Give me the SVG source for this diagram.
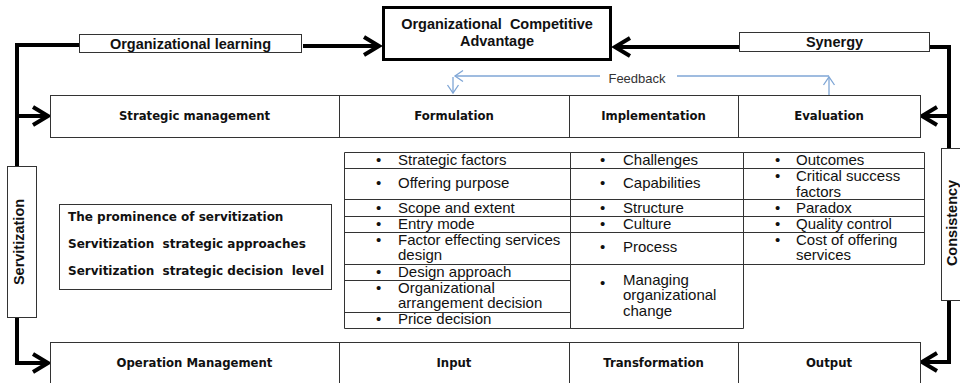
<svg xmlns="http://www.w3.org/2000/svg" width="960" height="383" viewBox="0 0 960 383">
<style>
.bg{fill:#fff}
.box{fill:#fff;stroke:#333;stroke-width:1}
.grid{stroke:#333;stroke-width:1;fill:none}
.conn{fill:none;stroke:#000;stroke-width:4}
.fb{fill:none;stroke:#7fa6d6;stroke-width:1.3}
.lbl{font-family:"Liberation Sans",Arial,sans-serif;font-weight:bold;font-size:14.5px;fill:#111;text-anchor:middle}
.hdr{font-family:"DejaVu Sans",Verdana,sans-serif;font-weight:bold;font-size:11.7px;fill:#111;text-anchor:middle}
.hdr2{font-family:"DejaVu Sans",Verdana,sans-serif;font-weight:bold;font-size:11.7px;fill:#111;text-anchor:middle}
.lb{font-family:"DejaVu Sans",Verdana,sans-serif;font-weight:bold;font-size:12px;fill:#111}
.it{font-family:"Liberation Sans",Arial,sans-serif;font-size:15px;fill:#111}
.fbt{font-family:"Liberation Sans",Arial,sans-serif;font-size:13px;fill:#333;text-anchor:middle}
</style>
<defs>
<marker id="chev" markerUnits="userSpaceOnUse" markerWidth="24" markerHeight="26" viewBox="0 0 24 26" refX="19" refY="13" orient="auto">
<path d="M4,4 L19,13 L4,22" fill="none" stroke="#000" stroke-width="4"/>
</marker>
<marker id="fchev" markerUnits="userSpaceOnUse" markerWidth="12" markerHeight="14" viewBox="0 0 12 14" refX="10" refY="7" orient="auto">
<path d="M2,1.5 L10,7 L2,12.5" fill="none" stroke="#7fa6d6" stroke-width="1.3"/>
</marker>
</defs>
<rect class="bg" x="0" y="0" width="960" height="383"/>

<g id="connectors">
<path class="conn" d="M79,45 H17 V166"/>
<path class="conn" d="M17,116 H48" marker-end="url(#chev)"/>
<path class="conn" d="M17,318 V363 H48" marker-end="url(#chev)"/>
<path class="conn" d="M303,46 H379" marker-end="url(#chev)"/>
<path class="conn" d="M739,47 H615" marker-end="url(#chev)"/>
<path class="conn" d="M930,47 H949 V148"/>
<path class="conn" d="M949,116 H922" marker-end="url(#chev)"/>
<path class="conn" d="M949,301 V362 H922" marker-end="url(#chev)"/>
<path class="fb" d="M829,95 V77" marker-end="url(#fchev)"/>
<path class="fb" d="M829,76 H677"/>
<path class="fb" d="M600,76 H455" marker-end="url(#fchev)"/>
<path class="fb" d="M453,77 V93" marker-end="url(#fchev)"/>
<text class="fbt" x="637" y="83">Feedback</text>
</g>

<g id="node-advantage">
<rect x="383.5" y="7.5" width="227" height="52" fill="#fff" stroke="#000" stroke-width="3"/>
<text class="lbl" x="497" y="29" font-size="15" xml:space="preserve">Organizational  Competitive</text>
<text class="lbl" x="497" y="46" font-size="15">Advantage</text>
</g>

<g id="node-learning">
<rect class="box" x="79.5" y="34.5" width="222" height="18"/>
<text class="lbl" x="190.5" y="49">Organizational learning</text>
</g>

<g id="node-synergy">
<rect class="box" x="739.5" y="32.5" width="190" height="19"/>
<text class="lbl" x="834.5" y="47">Synergy</text>
</g>

<g id="node-servitization">
<rect class="box" x="7.5" y="166.5" width="29" height="151"/>
<text class="lbl" font-size="15" transform="translate(24,242) rotate(-90)" x="0" y="0">Servitization</text>
</g>

<g id="node-consistency">
<rect class="box" x="941.5" y="148.5" width="25" height="152"/>
<text class="lbl" font-size="15" transform="translate(957,223) rotate(-90)" x="0" y="0">Consistency</text>
</g>

<g id="node-strategic">
<rect class="box" x="50.5" y="95.5" width="870" height="42"/>
<path class="grid" d="M339.5,95.5 V137.5 M569.5,95.5 V137.5 M738.5,95.5 V137.5"/>
<text class="hdr" x="194.5" y="120">Strategic management</text>
<text class="hdr" x="454" y="120">Formulation</text>
<text class="hdr" x="653.5" y="120">Implementation</text>
<text class="hdr" x="829" y="120">Evaluation</text>
</g>

<g id="node-operation">
<rect class="box" x="50.5" y="342.5" width="870" height="50"/>
<path class="grid" d="M339.5,342.5 V383 M569.5,342.5 V383 M738.5,342.5 V383"/>
<text class="hdr2" x="194.5" y="367">Operation Management</text>
<text class="hdr2" x="454" y="367">Input</text>
<text class="hdr2" x="653.5" y="367">Transformation</text>
<text class="hdr2" x="829" y="367">Output</text>
</g>

<g id="node-servitization-topics">
<rect class="box" x="59.5" y="204.5" width="272" height="85"/>
<text class="lb" x="68" y="221">The prominence of servitization</text>
<text class="lb" x="68" y="248" xml:space="preserve">Servitization  strategic approaches</text>
<text class="lb" x="68" y="275" xml:space="preserve">Servitization  strategic decision  level</text>
</g>

<g id="node-formulation-items">
<path class="grid" d="M344.5,152.5 H570.5 V328.5 H344.5 Z M344.5,168.5 H570.5 M344.5,199.5 H570.5 M344.5,216.5 H570.5 M344.5,232.5 H570.5 M344.5,264.5 H570.5 M344.5,280.5 H570.5 M344.5,312.5 H570.5"/>
<text class="it" x="376" y="165">•</text><text class="it" x="398" y="165">Strategic factors</text>
<text class="it" x="376" y="188">•</text><text class="it" x="398" y="188">Offering purpose</text>
<text class="it" x="376" y="213">•</text><text class="it" x="398" y="213">Scope and extent</text>
<text class="it" x="376" y="229">•</text><text class="it" x="398" y="229">Entry mode</text>
<text class="it" x="376" y="245">•</text><text class="it" x="398" y="245">Factor effecting services</text>
<text class="it" x="398" y="260">design</text>
<text class="it" x="376" y="277">•</text><text class="it" x="398" y="277">Design approach</text>
<text class="it" x="376" y="293">•</text><text class="it" x="398" y="293">Organizational</text>
<text class="it" x="398" y="308">arrangement decision</text>
<text class="it" x="376" y="324">•</text><text class="it" x="398" y="324">Price decision</text>
</g>

<g id="node-implementation-items">
<path class="grid" d="M570.5,152.5 H743.5 V328.5 H570.5 Z M570.5,168.5 H743.5 M570.5,199.5 H743.5 M570.5,216.5 H743.5 M570.5,232.5 H743.5 M570.5,264.5 H743.5"/>
<text class="it" x="600" y="165">•</text><text class="it" x="623" y="165">Challenges</text>
<text class="it" x="600" y="188">•</text><text class="it" x="623" y="188">Capabilities</text>
<text class="it" x="600" y="213">•</text><text class="it" x="623" y="213">Structure</text>
<text class="it" x="600" y="229">•</text><text class="it" x="623" y="229">Culture</text>
<text class="it" x="600" y="252">•</text><text class="it" x="623" y="252">Process</text>
<text class="it" x="600" y="288">•</text><text class="it" x="623" y="285">Managing</text>
<text class="it" x="623" y="300">organizational</text>
<text class="it" x="623" y="316">change</text>
</g>

<g id="node-evaluation-items">
<path class="grid" d="M743.5,152.5 H924.5 V264.5 H743.5 Z M743.5,168.5 H924.5 M743.5,199.5 H924.5 M743.5,216.5 H924.5 M743.5,232.5 H924.5"/>
<text class="it" x="775" y="165">•</text><text class="it" x="796" y="165">Outcomes</text>
<text class="it" x="775" y="181">•</text><text class="it" x="796" y="181">Critical success</text>
<text class="it" x="796" y="197">factors</text>
<text class="it" x="775" y="213">•</text><text class="it" x="796" y="213">Paradox</text>
<text class="it" x="775" y="229">•</text><text class="it" x="796" y="229">Quality control</text>
<text class="it" x="775" y="245">•</text><text class="it" x="796" y="245">Cost of offering</text>
<text class="it" x="796" y="260">services</text>
</g>
</svg>
